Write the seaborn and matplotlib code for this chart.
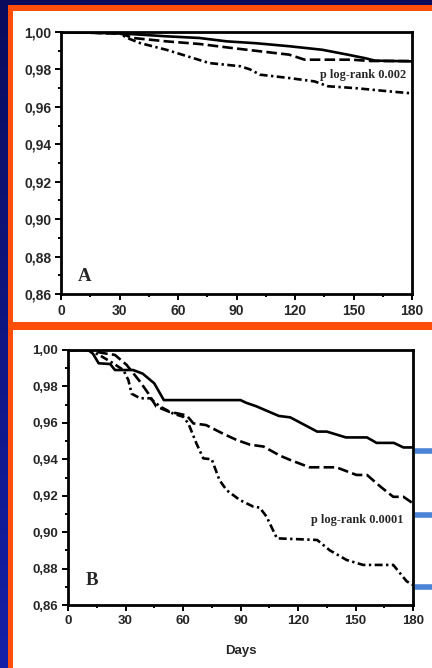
import numpy as np
import pandas as pd
import seaborn as sns
import matplotlib.pyplot as plt
from matplotlib.patches import Rectangle
from matplotlib.colors import LinearSegmentedColormap

# --- data ---
a_solid_days = [0, 20, 30, 54, 71, 85, 100, 117, 134, 147, 156, 161, 180]
a_solid_surv = [1.0, 0.9995, 0.9993, 0.9977, 0.9968, 0.995, 0.994, 0.9924, 0.9905, 0.9879, 0.986, 0.9847, 0.9843]
a_dash_days = [0, 20, 31, 37, 54, 71, 88, 102, 117, 125, 149, 159, 180]
a_dash_surv = [1.0, 0.9995, 0.999, 0.9968, 0.995, 0.9936, 0.9914, 0.9897, 0.9879, 0.9852, 0.9852, 0.9845, 0.9845]
a_dd_days = [0, 20, 30, 34, 40.5, 54, 68, 76, 92, 97, 102, 117, 130, 137, 151, 168, 180]
a_dd_surv = [1.0, 0.9995, 0.9993, 0.9968, 0.9941, 0.9905, 0.986, 0.9834, 0.9817, 0.980, 0.9772, 0.9754, 0.9736, 0.971, 0.970, 0.9683, 0.9672]

b_solid_days = [0, 10.5, 13, 16, 22, 24.5, 34, 39, 45, 50, 90, 93, 98, 110, 116, 130, 135, 145, 156, 161, 170, 175, 180]
b_solid_surv = [1.0, 1.0, 0.998, 0.9927, 0.9923, 0.989, 0.989, 0.987, 0.9817, 0.9725, 0.9725, 0.971, 0.9692, 0.9638, 0.963,
                0.9552, 0.9552, 0.952, 0.952, 0.949, 0.949, 0.9465, 0.9465]
b_dash_days = [0, 12, 15, 20, 24.5, 30.6, 37.6, 42, 46, 53, 58, 62, 65.4, 72, 81, 88, 95, 102, 110.6, 116, 126, 140, 150.5,
               156, 163, 169.7, 175, 180]
b_dash_surv = [1.0, 1.0, 0.999, 0.998, 0.9973, 0.9918, 0.9826, 0.976, 0.969, 0.966, 0.965, 0.964, 0.9597, 0.9588, 0.954,
               0.9506, 0.948, 0.947, 0.942, 0.9396, 0.9356, 0.9356, 0.9314, 0.9314, 0.925, 0.9194, 0.9194, 0.9158]
b_dd_days = [0, 11, 16.7, 23.6, 28.9, 31.5, 33.2, 37.6, 42.8, 48, 55, 60, 62.8, 67, 70.6, 75, 79, 82.8, 89.7, 96.7, 100,
             103.6, 109, 130, 136.6, 145.4, 154, 169.7, 176.7, 180]
b_dd_surv = [1.0, 1.0, 0.997, 0.9927, 0.989, 0.9835, 0.976, 0.9735, 0.9735, 0.969, 0.965, 0.9634, 0.9597, 0.9487, 0.9405,
             0.940, 0.9286, 0.923, 0.9176, 0.914, 0.9135, 0.9085, 0.8966, 0.8957, 0.890, 0.8847, 0.882, 0.882, 0.873, 0.871]

b_marker_levels = [0.9445, 0.9094, 0.870]

x_ticks = [0, 30, 60, 90, 120, 150, 180]
y_ticks = [0.86, 0.88, 0.90, 0.92, 0.94, 0.96, 0.98, 1.00]
y_tick_labels = ['0,86', '0,88', '0,90', '0,92', '0,94', '0,96', '0,98', '1,00']

W, H = 432, 668

sns.set_theme(style='white')
plt.rcParams['font.family'] = ['Liberation Sans', 'DejaVu Sans']

fig = plt.figure(figsize=(W / 100, H / 100), dpi=100)

# slide background: blue gradient, orange frames, white panels
bg = fig.add_axes([0, 0, 1, 1])
bg.set_zorder(-1)
cmap = LinearSegmentedColormap.from_list('bg', ['#0a0b5c', '#1420a8'])
bg.imshow(np.linspace(0, 1, 256)[:, None], cmap=cmap, extent=[0, W, H, 0], aspect='auto')
bg.add_patch(Rectangle((8, 5), W - 8, H - 5, color='#ff4e0a', lw=0))
bg.add_patch(Rectangle((13, 11), W - 13, 311, color='white', lw=0))
bg.add_patch(Rectangle((13, 330), W - 13, H - 330, color='white', lw=0))
bg.set_xlim(0, W)
bg.set_ylim(H, 0)
bg.axis('off')


def panel(rect, series, tick_size):
    ax = fig.add_axes(rect)
    frames = []
    for name, d, s in series:
        frames.append(pd.DataFrame({'day': d, 'surv': s, 'group': name}))
    df = pd.concat(frames, ignore_index=True)
    sns.lineplot(data=df, x='day', y='surv', style='group', ax=ax, color='black',
                 dashes={'solid': '', 'dashed': (4, 1.6), 'dashdot': (3, 1.3, 0.9, 1.3)},
                 estimator=None, sort=False, legend=False, lw=1.9)
    ax.set_xlim(0, 180)
    ax.set_ylim(0.86, 1.0)
    ax.set_xticks(x_ticks)
    ax.set_xticks(range(15, 180, 30), minor=True)
    ax.set_yticks(y_ticks)
    ax.set_yticklabels(y_tick_labels)
    ax.set_yticks(np.arange(0.87, 1.0, 0.02), minor=True)
    ax.tick_params(which='major', direction='out', length=4, width=1.4, color='black',
                   labelsize=tick_size, pad=3, left=True, bottom=True)
    ax.tick_params(which='minor', direction='out', length=2, width=1.4, color='black', left=True, bottom=True)
    for lab in ax.get_xticklabels() + ax.get_yticklabels():
        lab.set_fontweight('bold')
    for sp in ax.spines.values():
        sp.set_linewidth(2.0)
        sp.set_color('black')
    ax.set_xlabel('')
    ax.set_ylabel('')
    ax.set_facecolor('white')
    return ax


axA = panel([61 / W, 1 - 294 / H, 351 / W, 262 / H],
            [('solid', a_solid_days, a_solid_surv), ('dashed', a_dash_days, a_dash_surv),
             ('dashdot', a_dd_days, a_dd_surv)], 10)
axA.text(177, 0.977, 'p log-rank 0.002', ha='right', va='center', fontsize=8.8,
         fontweight='bold', family=['Liberation Serif', 'DejaVu Serif'])
axA.text(12.3, 0.8696, 'A', ha='center', va='center', fontsize=13.5,
         fontweight='bold', family=['Liberation Serif', 'DejaVu Serif'])

axB = panel([68 / W, 1 - 605 / H, 345 / W, 255 / H],
            [('solid', b_solid_days, b_solid_surv), ('dashed', b_dash_days, b_dash_surv),
             ('dashdot', b_dd_days, b_dd_surv)], 9.5)
axB.text(175, 0.9066, 'p log-rank 0.0001', ha='right', va='center', fontsize=8.8,
         fontweight='bold', family=['Liberation Serif', 'DejaVu Serif'])
axB.text(12.3, 0.8733, 'B', ha='center', va='center', fontsize=13.5,
         fontweight='bold', family=['Liberation Serif', 'DejaVu Serif'])
axB.set_xlabel('Days', fontsize=9.5, fontweight='bold', labelpad=13)

# blue pointers to the right of panel B
for lvl in b_marker_levels:
    axB.plot([181, 192], [lvl, lvl], color='#4a82d6', lw=4, solid_capstyle='butt', clip_on=False)

fig.savefig('out.png', dpi=100)
